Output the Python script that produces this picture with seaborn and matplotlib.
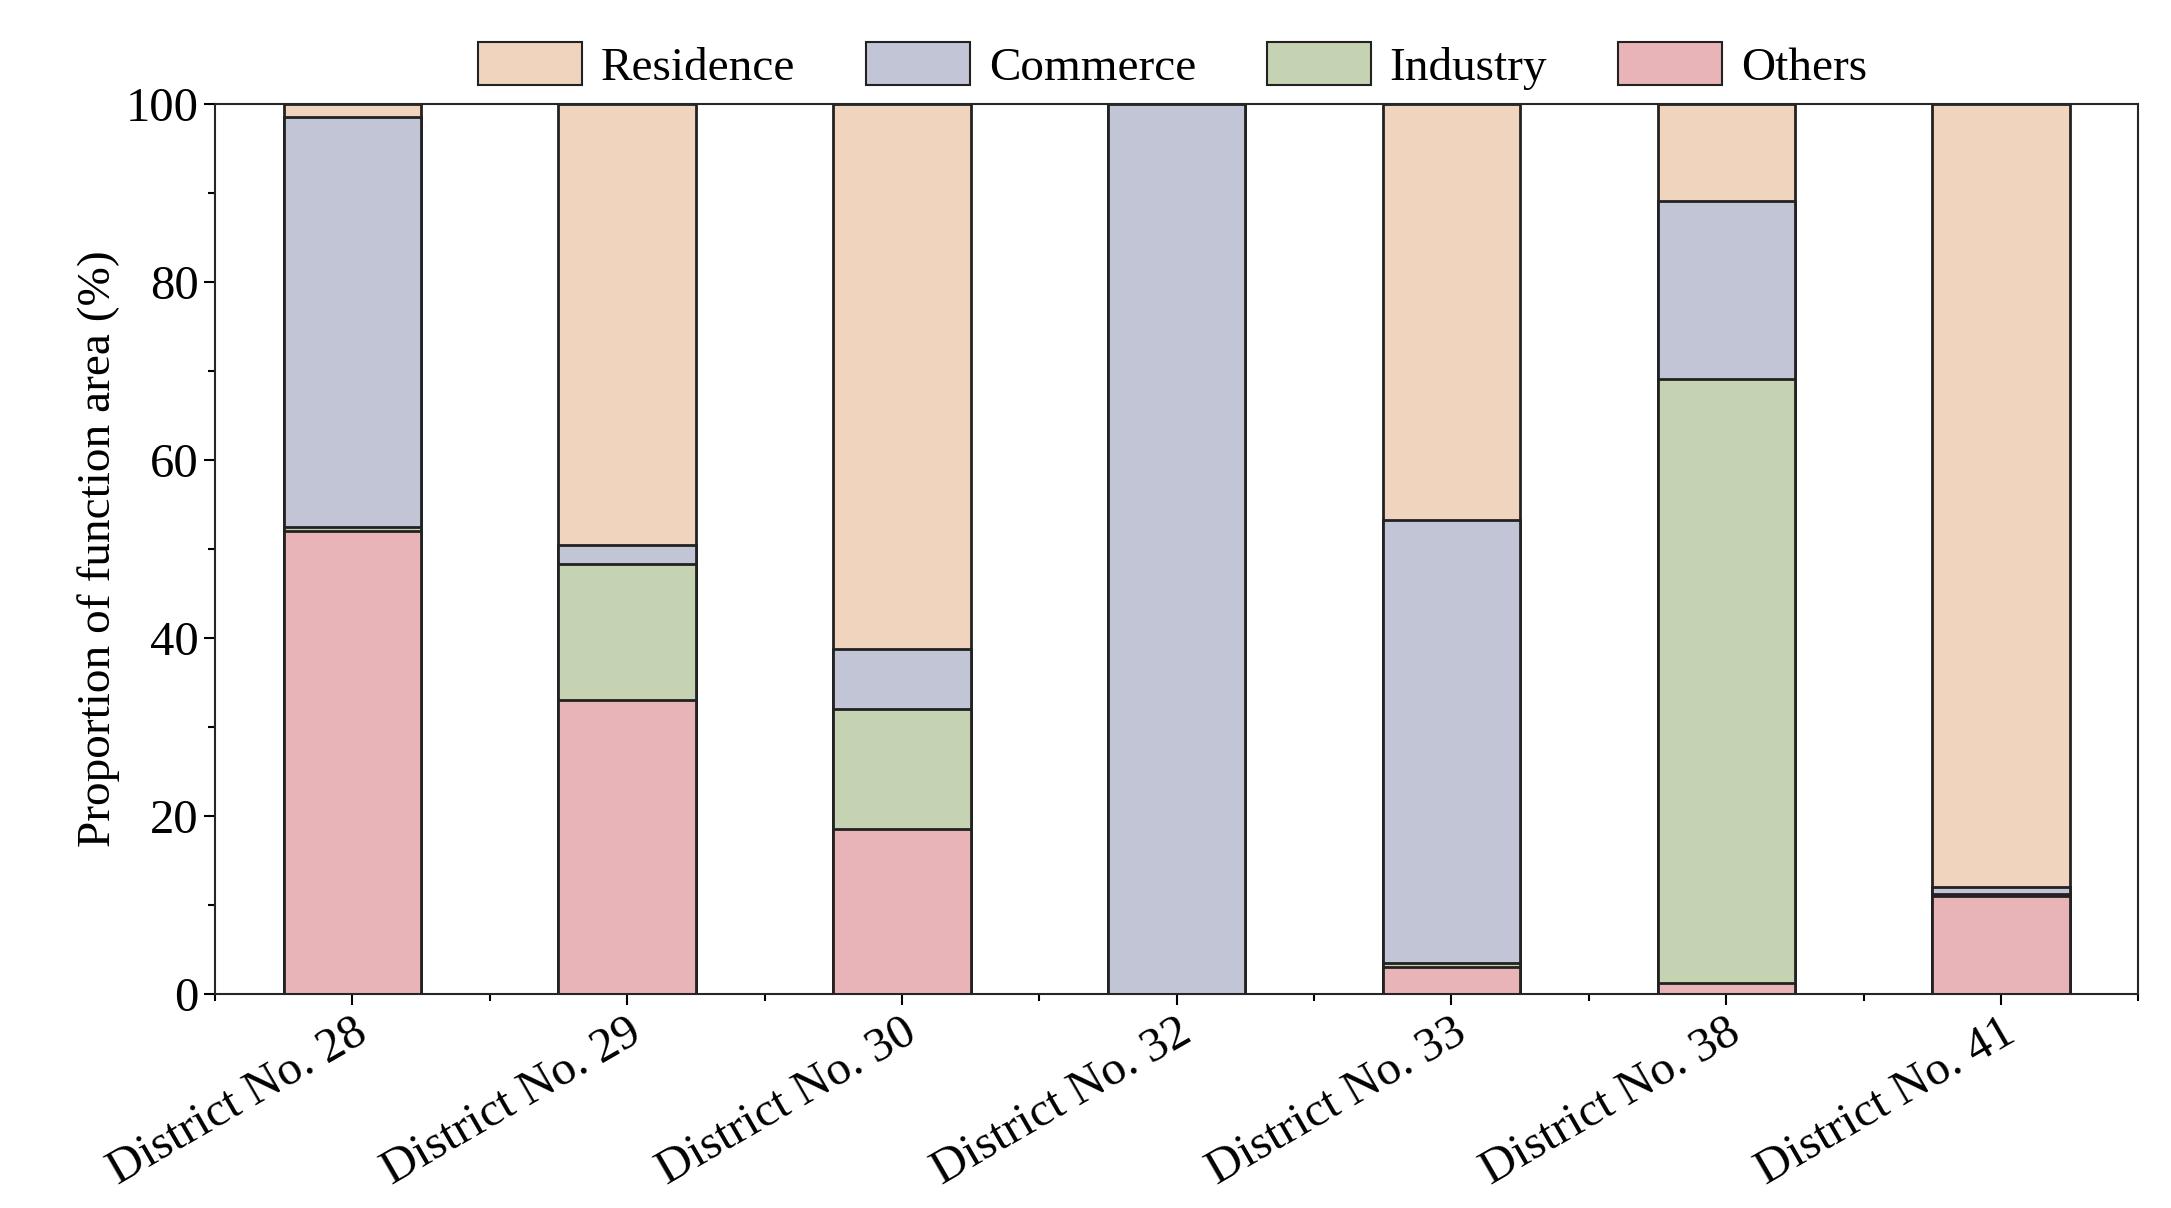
import seaborn as sns
import matplotlib.pyplot as plt
import matplotlib.transforms as mtransforms
import numpy as np
import pandas as pd
from matplotlib.patches import Patch

districts = ['District No. 28', 'District No. 29', 'District No. 30', 'District No. 32',
             'District No. 33', 'District No. 38', 'District No. 41']
others = [52.0, 33.0, 18.6, 0.0, 3.0, 1.3, 11.0]
industry = [0.5, 15.3, 13.4, 0.0, 0.5, 67.8, 0.2]
commerce = [46.0, 2.2, 6.8, 100.0, 49.8, 20.0, 0.8]
residence = [1.5, 49.5, 61.2, 0.0, 46.7, 10.9, 88.0]

names = ['Others', 'Industry', 'Commerce', 'Residence']
colors = {'Residence': '#f0d4bd', 'Commerce': '#c2c5d6',
          'Industry': '#c5d3b2', 'Others': '#e9b4b8'}

sns.set_style('ticks')
plt.rcParams['font.family'] = ['Liberation Serif', 'DejaVu Serif']
plt.rcParams['text.color'] = 'black'
plt.rcParams['xtick.color'] = 'black'
plt.rcParams['ytick.color'] = 'black'
plt.rcParams['axes.labelcolor'] = 'black'

fig, ax = plt.subplots(figsize=(21.71, 12.08), dpi=100)
fig.subplots_adjust(left=0.099, right=0.985, top=0.914, bottom=0.177)

# cumulative layers, drawn from the top of the stack down
layers = [others, industry, commerce, residence]
cum = np.cumsum(np.array(layers), axis=0)
for i in range(len(names) - 1, -1, -1):
    df = pd.DataFrame({'district': districts, 'value': cum[i]})
    sns.barplot(data=df, x='district', y='value', color=colors[names[i]],
                edgecolor='#222222', linewidth=2, width=0.5, saturation=1, ax=ax)

ax.set_ylim(0, 100)
ax.set_xlim(-0.5, len(districts) - 0.5)
ax.set_yticks(np.arange(0, 101, 20))
ax.set_yticks(np.arange(10, 100, 20), minor=True)
ax.set_xticks(np.arange(-0.5, len(districts), 1), minor=True)
ax.set_xlabel('')
ax.set_ylabel('Proportion of function area (%)', fontsize=34)
ax.set_xticks(range(len(districts)))
ax.set_xticklabels(districts, rotation=30, ha='right', rotation_mode='anchor', fontsize=35)
offset = mtransforms.ScaledTranslation(1.2, 0, fig.dpi_scale_trans)
for lab in ax.get_xticklabels():
    lab.set_transform(lab.get_transform() + offset)
ax.tick_params(axis='y', labelsize=35, length=8, width=1.5)
ax.tick_params(axis='x', length=8, width=1.5)
ax.tick_params(which='minor', length=5, width=1.5)
for s in ax.spines.values():
    s.set_linewidth(1.5)

handles = [Patch(facecolor=colors[n], edgecolor='#222222', linewidth=1.5)
           for n in ['Residence', 'Commerce', 'Industry', 'Others']]
fig.legend(handles, ['Residence', 'Commerce', 'Industry', 'Others'], loc='upper center',
           bbox_to_anchor=(0.54, 1.0), ncol=4, frameon=False, fontsize=34,
           handlelength=2.2, handleheight=1.0, columnspacing=1.5, handletextpad=0.4)

plt.savefig('out.png', dpi=100)
